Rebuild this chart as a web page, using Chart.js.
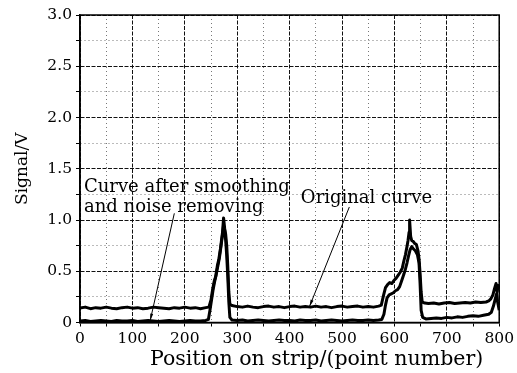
<!DOCTYPE html>
<html>
<head>
<meta charset="utf-8">
<script src="https://cdn.jsdelivr.net/npm/chart.js@4/dist/chart.umd.min.js"></script>
<style>
  html, body { margin: 0; padding: 0; background: #fff; }
  #wrap { width: 517px; height: 373px; }
</style>
</head>
<body>
<div id="wrap"><canvas id="c"></canvas></div>
<script>
// Strip scan: raw signal (upper trace) and the smoothed, noise-removed trace (lower).
const originalX = [
  0,10,20,30,40,50,60,70,80,90,100,110,120,130,140,150,160,170,180,190,200,210,220,230,240,
  246,250,253,256,259,262,265,268,270,272,274,276,278,280,282,284,286,290,
  300,310,320,330,340,350,360,370,380,390,400,410,420,430,440,450,460,470,480,490,500,510,520,530,540,550,560,570,
  575,579,583,587,591,595,599,603,607,611,615,618,621,624,626,628,629,631,633,636,639,642,645,647,649,651,653,658,
  665,675,685,695,705,715,725,735,745,755,765,775,
  780,784,788,791,794,796,798,800
];
const originalY = [
  0.14,0.15,0.135,0.145,0.14,0.15,0.14,0.135,0.145,0.15,0.14,0.145,0.135,0.14,0.15,0.145,0.14,0.135,0.145,0.14,0.15,0.14,0.145,0.135,0.145,
  0.15,0.22,0.32,0.40,0.45,0.55,0.62,0.72,0.80,0.88,1.02,0.92,0.86,0.75,0.55,0.30,0.18,0.165,
  0.155,0.15,0.16,0.15,0.145,0.155,0.16,0.15,0.155,0.145,0.155,0.16,0.15,0.155,0.15,0.16,0.15,0.155,0.145,0.155,0.16,0.15,0.155,0.16,0.15,0.155,0.15,0.16,
  0.17,0.26,0.34,0.37,0.39,0.38,0.41,0.43,0.46,0.49,0.53,0.60,0.66,0.74,0.80,0.88,1.00,0.84,0.80,0.79,0.77,0.76,0.70,0.62,0.48,0.30,0.20,0.19,
  0.185,0.19,0.18,0.19,0.195,0.185,0.19,0.195,0.19,0.20,0.195,0.20,
  0.21,0.23,0.27,0.33,0.38,0.30,0.36,0.33
];

const smoothedX = [
  0,10,20,30,40,50,60,70,80,90,100,110,120,130,140,150,160,170,180,190,200,210,220,230,240,
  245,248,251,254,257,260,263,266,269,272,274,276,278,280,282,284,286,290,
  300,310,320,330,340,350,360,370,380,390,400,410,420,430,440,450,460,470,480,490,500,510,520,530,540,550,560,570,
  576,580,583,586,590,594,598,602,606,610,614,618,621,624,627,630,633,636,640,644,647,649,651,654,660,
  670,680,690,700,710,720,730,740,750,760,770,
  780,785,789,792,795,797,800
];
const smoothedY = [
  0.015,0.02,0.01,0.015,0.02,0.015,0.01,0.02,0.015,0.015,0.02,0.01,0.015,0.02,0.015,0.01,0.015,0.02,0.015,0.01,0.015,0.02,0.015,0.015,0.02,
  0.03,0.12,0.22,0.32,0.40,0.47,0.55,0.63,0.74,0.86,0.95,0.90,0.80,0.65,0.45,0.20,0.05,0.025,
  0.02,0.025,0.015,0.02,0.025,0.02,0.015,0.02,0.025,0.02,0.02,0.015,0.025,0.02,0.02,0.025,0.015,0.02,0.025,0.02,0.015,0.02,0.025,0.02,0.02,0.025,0.02,0.025,
  0.03,0.08,0.17,0.24,0.27,0.28,0.29,0.31,0.32,0.35,0.41,0.47,0.52,0.58,0.65,0.71,0.74,0.72,0.70,0.66,0.58,0.38,0.12,0.05,0.035,
  0.04,0.045,0.04,0.05,0.045,0.055,0.05,0.06,0.065,0.06,0.07,
  0.08,0.10,0.16,0.22,0.28,0.20,0.12
];

// Axis ranges and tick spacing
const xRange = [0, 800];
const yRange = [0, 3.0];
const xMajor = 100, xMinor = 50;
const yMajor = 0.5, yMinor = 0.25;
const xTitle = 'Position on strip/(point number)';
const yTitle = 'Signal/V';

// Callout labels, each with a leader line pointing at its trace (data coordinates)
const callouts = [
  { lines: ['Curve after smoothing', 'and noise removing'], at: [7.6, 1.32], from: [180, 1.065], to: [134, 0.02] },
  { lines: ['Original curve'], at: [421.5, 1.215], from: [514, 1.127], to: [438, 0.156] }
];

const SERIF = '"DejaVu Serif", serif';

function toPoints(xs, ys) { return xs.map((x, i) => ({ x: x, y: ys[i] })); }
function isMajor(v, step) { return Math.abs(v / step - Math.round(v / step)) < 1e-6; }

const framePlugin = {
  id: 'frame',
  afterDatasetsDraw(chart) {
    const { ctx, chartArea: a } = chart;
    ctx.save();
    ctx.strokeStyle = '#000';
    ctx.lineWidth = 1.5;
    ctx.strokeRect(a.left, a.top, a.right - a.left, a.bottom - a.top);
    ctx.restore();
  }
};

// Bottom axis title, set slightly right of the plot centre
const xTitlePlugin = {
  id: 'xTitle',
  afterDraw(chart) {
    const { ctx, chartArea: a } = chart;
    ctx.save();
    ctx.fillStyle = '#000';
    ctx.font = '20.5px ' + SERIF;
    ctx.textAlign = 'center';
    ctx.textBaseline = 'middle';
    ctx.fillText(xTitle, (a.left + a.right) / 2 + 27, a.bottom + 37);
    ctx.restore();
  }
};

const calloutPlugin = {
  id: 'callouts',
  afterDraw(chart) {
    const { ctx } = chart;
    const xs = chart.scales.x, ys = chart.scales.y;
    ctx.save();
    ctx.fillStyle = '#000';
    ctx.strokeStyle = '#000';
    ctx.font = '18px ' + SERIF;
    ctx.textBaseline = 'middle';
    ctx.textAlign = 'left';
    callouts.forEach(c => {
      const tx = xs.getPixelForValue(c.at[0]);
      const ty = ys.getPixelForValue(c.at[1]);
      c.lines.forEach((t, i) => ctx.fillText(t, tx, ty + i * 20));
      const x1 = xs.getPixelForValue(c.from[0]), y1 = ys.getPixelForValue(c.from[1]);
      const x2 = xs.getPixelForValue(c.to[0]), y2 = ys.getPixelForValue(c.to[1]);
      ctx.lineWidth = 1;
      ctx.beginPath(); ctx.moveTo(x1, y1); ctx.lineTo(x2, y2); ctx.stroke();
      const ang = Math.atan2(y2 - y1, x2 - x1), L = 7, W = 0.22;
      ctx.beginPath();
      ctx.moveTo(x2, y2);
      ctx.lineTo(x2 - L * Math.cos(ang - W), y2 - L * Math.sin(ang - W));
      ctx.lineTo(x2 - L * Math.cos(ang + W), y2 - L * Math.sin(ang + W));
      ctx.closePath(); ctx.fill();
    });
    ctx.restore();
  }
};

function gridOpts(step) {
  return {
    color: c => (c.tick && isMajor(c.tick.value, step)) ? '#111' : '#777',
    lineWidth: 1,
    tickColor: '#000',
    tickLength: 4,
    drawTicks: true
  };
}
function borderOpts(step) {
  return {
    display: true,
    color: '#000',
    width: 1.5,
    dash: c => (c.tick ? (isMajor(c.tick.value, step) ? [4, 1.5] : [1, 3]) : [])
  };
}

new Chart(document.getElementById('c'), {
  type: 'line',
  data: {
    datasets: [
      { label: 'Original curve', data: toPoints(originalX, originalY) },
      { label: 'Curve after smoothing and noise removing', data: toPoints(smoothedX, smoothedY) }
    ]
  },
  options: {
    responsive: true,
    maintainAspectRatio: false,
    animation: false,
    events: [],
    layout: { padding: { left: 0, right: 14, top: 15, bottom: 0 } },
    elements: {
      point: { radius: 0 },
      line: { borderColor: '#000', borderWidth: 3, tension: 0, fill: false, borderJoinStyle: 'round' }
    },
    plugins: { legend: { display: false }, tooltip: { enabled: false } },
    scales: {
      x: {
        type: 'linear',
        min: xRange[0], max: xRange[1],
        ticks: {
          stepSize: xMinor, autoSkip: false, maxRotation: 0, padding: 3,
          color: '#000', font: { family: SERIF, size: 15.5 },
          callback: v => isMajor(v, xMajor) ? String(v) : ''
        },
        grid: gridOpts(xMajor),
        border: borderOpts(xMajor),
        title: { display: false },
        afterFit: s => { s.height = 50.5; }
      },
      y: {
        min: yRange[0], max: yRange[1],
        ticks: {
          stepSize: yMinor, autoSkip: false, padding: 4,
          color: '#000', font: { family: SERIF, size: 15.5 },
          callback: v => isMajor(v, yMajor) ? (v === 0 ? '0' : v.toFixed(1)) : ''
        },
        grid: gridOpts(yMajor),
        border: borderOpts(yMajor),
        title: {
          display: true, text: yTitle, color: '#000',
          font: { family: SERIF, size: 17 }, padding: { top: 12, bottom: 0 }
        },
        afterFit: s => { s.width = 80; }
      }
    }
  },
  plugins: [framePlugin, xTitlePlugin, calloutPlugin]
});
</script>
</body>
</html>
